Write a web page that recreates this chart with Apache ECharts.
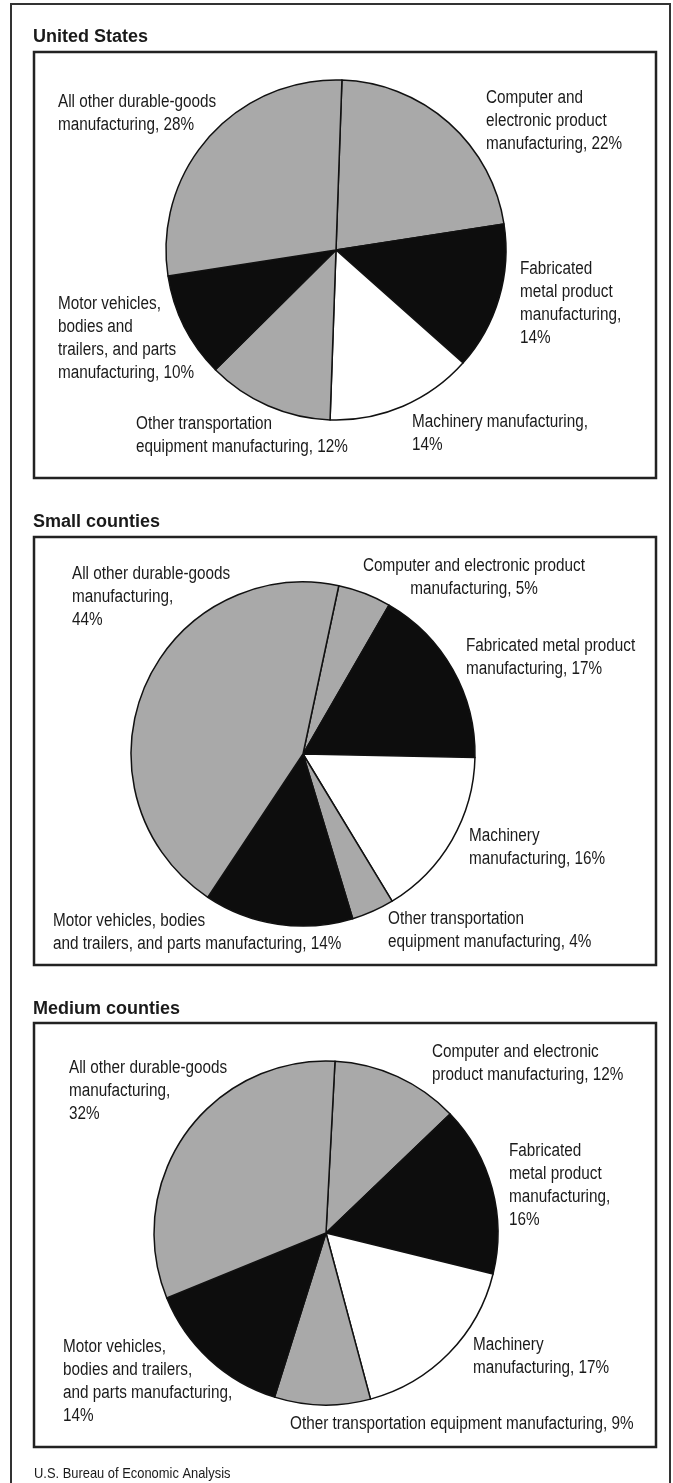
<!DOCTYPE html>
<html lang="en">
<head>
    <meta charset="UTF-8">
    <title>Durable-goods manufacturing by industry</title>
    <script src="https://cdn.jsdelivr.net/npm/echarts@6/dist/echarts.min.js"></script>
    <style>
        html, body {margin: 0; padding: 0; background: #fff;}
    </style>
</head>
<body>
<div id="main" style="width: 673px;height:1483px;"></div>
<script>
    // industries, clockwise from the top of each pie
    var categories = [
        'Computer and electronic product manufacturing',
        'Fabricated metal product manufacturing',
        'Machinery manufacturing',
        'Other transportation equipment manufacturing',
        'Motor vehicles, bodies and trailers, and parts manufacturing',
        'All other durable-goods manufacturing'
    ];
    var usShares = [22, 14, 14, 12, 10, 28];
    var smallShares = [5, 17, 16, 4, 14, 44];
    var mediumShares = [12, 16, 17, 9, 14, 32];

    var titles = ['United States', 'Small counties', 'Medium counties'];
    var source = 'U.S. Bureau of Economic Analysis';

    // label text as wrapped in each panel, {v} = share
    var usLabels = [
        'Computer and\nelectronic product\nmanufacturing, {v}%',
        'Fabricated\nmetal product\nmanufacturing,\n{v}%',
        'Machinery manufacturing,\n{v}%',
        'Other transportation\nequipment manufacturing, {v}%',
        'Motor vehicles,\nbodies and\ntrailers, and parts\nmanufacturing, {v}%',
        'All other durable-goods\nmanufacturing, {v}%'
    ];
    var smallLabels = [
        'Computer and electronic product\nmanufacturing, {v}%',
        'Fabricated metal product\nmanufacturing, {v}%',
        'Machinery\nmanufacturing, {v}%',
        'Other transportation\nequipment manufacturing, {v}%',
        'Motor vehicles, bodies\nand trailers, and parts manufacturing, {v}%',
        'All other durable-goods\nmanufacturing,\n{v}%'
    ];
    var mediumLabels = [
        'Computer and electronic\nproduct manufacturing, {v}%',
        'Fabricated\nmetal product\nmanufacturing,\n{v}%',
        'Machinery\nmanufacturing, {v}%',
        'Other transportation equipment manufacturing, {v}%',
        'Motor vehicles,\nbodies and trailers,\nand parts manufacturing,\n{v}%',
        'All other durable-goods\nmanufacturing,\n{v}%'
    ];

    var GRAY = '#a9a9a9', BLACK = '#0d0d0d', WHITE = '#ffffff';
    var fills = [GRAY, BLACK, WHITE, GRAY, BLACK, GRAY];
    var FONT = "'Liberation Sans', Arial, sans-serif";
    var NARROW = 0.85; // the print face is a condensed Helvetica

    // panel layout: box, pie, label anchors
    var panels = [
        {box: [34, 52, 622, 426], titleY: 37, center: [336, 250], r: 170, start: 88,
            labels: usLabels, shares: usShares,
            pos: [[486, 87, 'left'], [520, 258, 'left'], [412, 411, 'left'], [136, 413, 'left'], [58, 293, 'left'], [58, 91, 'left']]},
        {box: [34, 537, 622, 428], titleY: 522, center: [303, 754], r: 172, start: 78,
            labels: smallLabels, shares: smallShares,
            pos: [[474, 555, 'center'], [466, 635, 'left'], [469, 825, 'left'], [388, 908, 'left'], [53, 910, 'left'], [72, 563, 'left']]},
        {box: [34, 1023, 622, 424], titleY: 1009, center: [326, 1233], r: 172, start: 87,
            labels: mediumLabels, shares: mediumShares,
            pos: [[432, 1041, 'left'], [509, 1140, 'left'], [473, 1334, 'left'], [290, 1413, 'left'], [63, 1336, 'left'], [69, 1057, 'left']]}
    ];

    var graphics = [{
        type: 'polyline',
        shape: {points: [[11, 1483], [11, 4], [670, 4], [670, 1483]]},
        style: {stroke: '#333', lineWidth: 2, fill: null}
    }];
    var series = [];

    panels.forEach(function (p, k) {
        graphics.push({
            type: 'rect',
            shape: {x: p.box[0], y: p.box[1], width: p.box[2], height: p.box[3]},
            style: {stroke: '#222', lineWidth: 2.5, fill: null}
        });
        graphics.push({
            type: 'text', x: 33, y: p.titleY,
            style: {text: titles[k], font: "bold 18px " + FONT,
                fill: '#1a1a1a', verticalAlign: 'middle'}
        });
        // slice labels, squeezed horizontally like the printed ones
        p.labels.forEach(function (tpl, i) {
            var q = p.pos[i];
            graphics.push({
                type: 'text', x: q[0], y: q[1], scaleX: NARROW,
                style: {
                    text: tpl.replace('{v}', p.shares[i]),
                    font: "18px " + FONT, lineHeight: 23,
                    fill: '#1a1a1a', align: q[2], verticalAlign: 'top'
                }
            });
        });
        series.push({
            type: 'pie',
            center: p.center,
            radius: p.r,
            startAngle: p.start,
            clockwise: true,
            silent: true,
            itemStyle: {borderColor: '#111', borderWidth: 1.5},
            label: {show: false},
            labelLine: {show: false},
            data: categories.map(function (name, i) {
                return {name: name, value: p.shares[i], itemStyle: {color: fills[i]}};
            })
        });
    });

    graphics.push({
        type: 'text', x: 34, y: 1474, scaleX: 0.86,
        style: {text: source, font: "15px " + FONT, fill: '#1a1a1a', verticalAlign: 'middle'}
    });

    var myChart = echarts.init(document.getElementById('main'));
    option = {
        backgroundColor: '#fff',
        animation: false,
        graphic: graphics,
        series: series
    };
    myChart.setOption(option);
</script>
</body>
</html>
